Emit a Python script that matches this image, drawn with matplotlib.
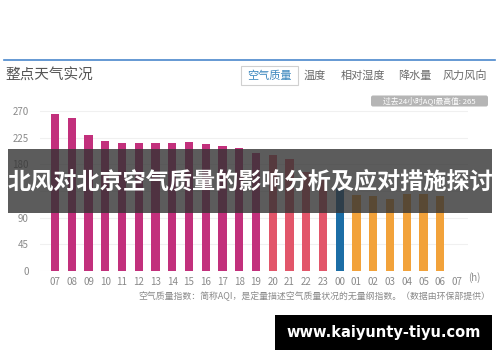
import numpy as np
import matplotlib
matplotlib.use('Agg')
import matplotlib.pyplot as plt
from matplotlib.patches import Rectangle, FancyBboxPatch

plt.rcParams['font.family'] = ['Noto Sans CJK SC', 'DejaVu Sans']

# hourly AQI, 07h .. 06h next day
hours = ['07', '08', '09', '10', '11', '12', '13', '14', '15', '16', '17', '18',
         '19', '20', '21', '22', '23', '00', '01', '02', '03', '04', '05', '06', '07']
aqi = [265, 258, 230, 220, 216, 216, 216, 216, 217, 214, 211, 207,
       199, 196, 189, 167, 155, 140, 128, 127, 121, 130, 130, 127]
levels = ['s'] * 13 + ['h'] * 4 + ['m'] + ['l'] * 6
level_colors = {'s': '#c2307c', 'h': '#e2566a', 'm': '#1c6ea6', 'l': '#f2a23a'}
yticks = [0, 45, 90, 135, 180, 225, 270]
ytick_show = ['0', '45', '90', '', '180', '225', '270']

title = '整点天气实况'
tabs = ['空气质量', '温度', '相对湿度', '降水量', '风力风向']
badge = '过去24小时AQI最高值: 265'
caption = '空气质量指数：简称AQI，是定量描述空气质量状况的无量纲指数。（数据由环保部提供）'
banner = '北风对北京空气质量的影响分析及应对措施探讨'
footer = 'www.kaiyunty-tiyu.com'

fig = plt.figure(figsize=(5, 3.62), dpi=100)
fig.patch.set_facecolor('white')

# main bar chart
ax = fig.add_axes([0.08, 0.2514, 0.856, 0.4586])
x = np.arange(len(aqi))
ax.bar(x, aqi, width=0.5, color=[level_colors[l] for l in levels], zorder=2)
ax.set_xlim(-0.9, 24.66)
ax.set_ylim(0, 280)
ax.set_xticks(np.arange(len(hours)))
ax.set_xticklabels(hours)
ax.set_yticks(yticks)
ax.set_yticklabels(ytick_show)
ax.tick_params(length=0, labelsize=7, labelcolor='#8a8a8a', pad=4)
ax.tick_params(axis='y', pad=8)
for s in ax.spines.values():
    s.set_visible(False)
ax.grid(axis='y', color='#f0f0f0', lw=0.8, zorder=0)
ax.text(24.65, -11, '(h)', fontsize=7, color='#8a8a8a', ha='left', va='center')

# overlay in pixel coordinates for the page furniture
ov = fig.add_axes([0, 0, 1, 1])
ov.set_xlim(0, 500)
ov.set_ylim(362, 0)
ov.axis('off')
ov.patch.set_alpha(0)

ov.plot([4, 495], [59.5, 59.5], color='#4a88cc', lw=1.2)
ov.text(5, 76, title, fontsize=10.5, color='#555555', va='center', ha='left')

ov.add_patch(Rectangle((241, 66), 57, 19, fc='white', ec='#d0d0d0', lw=0.8))
tab_x = [269, 315, 363, 415, 465]
for i, (t, tx) in enumerate(zip(tabs, tab_x)):
    ov.text(tx, 75.5, t, fontsize=8, color='#3a86bd' if i == 0 else '#6a6a6a',
            ha='center', va='center')

ov.add_patch(FancyBboxPatch((371, 95.5), 117, 11, boxstyle='round,pad=0,rounding_size=2',
                            fc='#b5b5b5', ec='none'))
ov.text(429.5, 101, badge, fontsize=5.6, color='white', ha='center', va='center')

ov.text(490, 296, caption, fontsize=6.4, color='#8a8a8a', ha='right', va='center')

ov.add_patch(Rectangle((8, 149), 484, 64, fc='#333333', alpha=0.8, ec='none'))
ov.text(250, 182, banner, fontsize=16.7, fontweight='bold', color='white',
        ha='center', va='center')

ov.add_patch(Rectangle((275, 315), 217, 35, fc='black', ec='none'))
ov.text(383.5, 332.5, footer, fontsize=10.5, fontweight='bold', color='white',
        ha='center', va='center', family='DejaVu Sans')

fig.savefig('out.png', dpi=100)
